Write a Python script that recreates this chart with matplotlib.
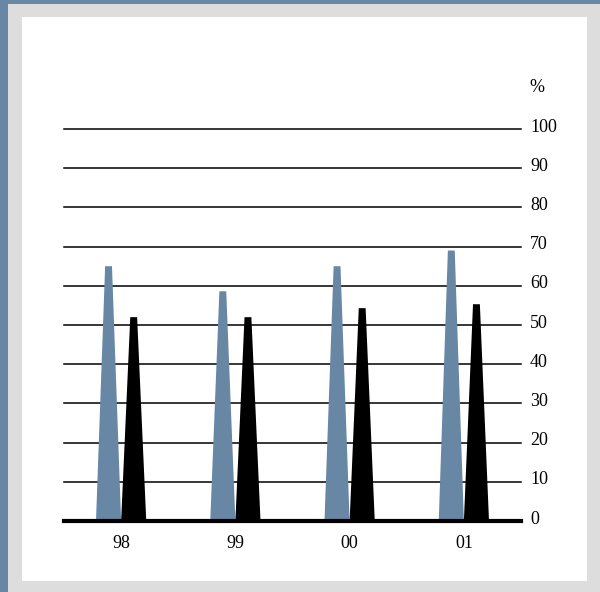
import matplotlib
matplotlib.use("Agg")
import matplotlib.pyplot as plt
from matplotlib.patches import Polygon, Rectangle
from matplotlib.transforms import offset_copy

years = ["98", "99", "00", "01"]
series_a = [65, 58.6, 65, 69]
series_b = [52, 52, 54.3, 55.3]
y_ticks = [0, 10, 20, 30, 40, 50, 60, 70, 80, 90, 100]

blue = "#6887a5"
frame_grey = "#dddddd"
serif = ["Liberation Serif", "DejaVu Serif"]

fig = plt.figure(figsize=(6.0, 5.92), dpi=100)
W, H = 600, 592

def px_rect(x0, y0, x1, y1, color):
    fig.patches.append(Rectangle((x0 / W, 1 - y1 / H), (x1 - x0) / W, (y1 - y0) / H,
                                 transform=fig.transFigure, color=color, lw=0, zorder=-10))

px_rect(0, 0, 600, 592, blue)
px_rect(8, 4, 600, 592, frame_grey)
px_rect(22, 17, 587, 581, "white")

ax = fig.add_axes([64 / W, 1 - 521 / H, (521 - 64) / W, (521 - 129) / H])
ax.set_xlim(0, len(years))
ax.set_ylim(0, 100)
ax.patch.set_visible(False)
for s in ax.spines.values():
    s.set_visible(False)
ax.set_xticks([])
ax.set_yticks([])

for t in y_ticks[1:]:
    ax.axhline(t, color="black", lw=1.1, zorder=1, clip_on=False)
ax.axhline(0, color="black", lw=3, zorder=4, clip_on=False)

offset = 0.11
base_half = 0.11
top_half = 0.03
for i, (a, b) in enumerate(zip(series_a, series_b)):
    c = i + 0.5
    for xc, v, col in ((c - offset, a, blue), (c + offset, b, "black")):
        ax.add_patch(Polygon([(xc - base_half, 0), (xc + base_half, 0),
                              (xc + top_half, v), (xc - top_half, v)],
                             closed=True, facecolor=col, edgecolor="none", zorder=3))
    ax.text(c, -3.6, years[i], ha="center", va="top", fontsize=13,
            family=serif, transform=ax.transData)

# value scale on the right, labels sit slightly above their lines
label_tr = offset_copy(ax.get_yaxis_transform(), fig=fig, x=9, y=2, units="dots")
for t in y_ticks:
    ax.text(1.0, t, str(t), ha="left", va="center", fontsize=13, family=serif,
            transform=label_tr, clip_on=False)

fig.text(529 / W, 1 - 88 / H, "%", ha="left", va="center", fontsize=13, family=serif)

fig.savefig("out.png", dpi=100)
